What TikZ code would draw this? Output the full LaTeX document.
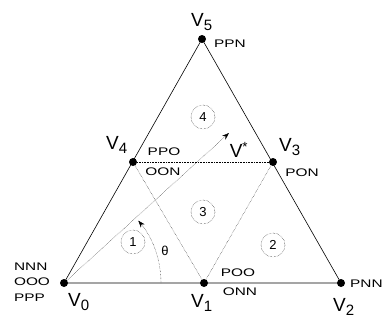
\documentclass[tikz,border=0pt]{standalone}
\usepackage{fontspec}
\setmainfont{Liberation Sans}
\newfontfamily\widefont[FakeStretch=1.4]{Liberation Sans}
\usetikzlibrary{arrows.meta}

\newcommand{\vsub}[1]{V\textsubscript{\fontsize{15}{15}\selectfont #1}}

\begin{document}
\begin{tikzpicture}[x=1pt, y=-1pt,
  font=\fontsize{13}{13}\selectfont,
  >={Stealth[length=7pt, width=5pt]},
  vtx/.style={circle, fill, minimum size=8pt, inner sep=0pt},
  sect/.style={draw, densely dotted, circle, minimum size=24pt, inner sep=0pt,
               font=\fontsize{13}{13}\selectfont},
  vlab/.style={font=\fontsize{19}{19}\selectfont, inner sep=0pt},
  st/.style={font=\widefont\fontsize{11}{15.5}\selectfont, inner sep=0pt, align=left},
  aux/.style={densely dotted, thin}
]
\useasboundingbox (0,0) rectangle (384,322);

% ---------- titik sudut (vektor aktif) ----------
\node[vtx] (v0) at (64,283)  {};
\node[vtx] (v1) at (204,283) {};
\node[vtx] (v2) at (341,283) {};
\node[vtx] (v3) at (273,162) {};
\node[vtx] (v4) at (133,162) {};
\node[vtx] (v5) at (202,39)  {};
\coordinate (vref) at (229,133);

% ---------- segitiga luar ----------
\draw[semithick] (v0.center) -- (v2.center) -- (v5.center) -- cycle;

% ---------- garis dalam ----------
\draw[aux, semithick] (v4) -- (v3);
\draw[aux] (v4) -- (v1);
\draw[aux] (v1) -- (v3);

% ---------- vektor referensi dan sudut ----------
\draw[aux, ->] (v0.center) -- (vref);
\draw[aux, ->] (v0.center) ++(97,0) arc[start angle=0, end angle=-40, radius=97];
\node (th) at (165,251) {θ};
\node[vlab] (vlb) at (239,150) {V\textsuperscript{*}};

% ---------- nomor sektor ----------
\node[sect] (s1) at (133,242) {1};
\node[sect] (s2) at (273,245) {2};
\node[sect] (s3) at (203,212) {3};
\node[sect] (s4) at (203,117) {4};

% ---------- label titik sudut ----------
\node[vlab] (l0) at (79,302)  {\vsub{0}};
\node[vlab] (l1) at (202,303) {\vsub{1}};
\node[vlab] (l2) at (344,307) {\vsub{2}};
\node[vlab] (l3) at (290,147) {\vsub{3}};
\node[vlab] (l4) at (117,145) {\vsub{4}};
\node[vlab] (l5) at (202,22)  {\vsub{5}};

% ---------- status sakelar ----------
\node[st] (k0) at (32,282) {NNN\\OOO\\PPP};
\node[st] (k1a) at (238,273) {POO};
\node[st] (k1b) at (240,292) {ONN};
\node[st, anchor=west] (k2) at (350,284) {PNN};
\node[st] (k3) at (302,173) {PON};
\node[st] (k4a) at (164,152) {PPO};
\node[st] (k4b) at (163,172) {OON};
\node[st] (k5) at (230,44) {PPN};

\end{tikzpicture}
\end{document}
